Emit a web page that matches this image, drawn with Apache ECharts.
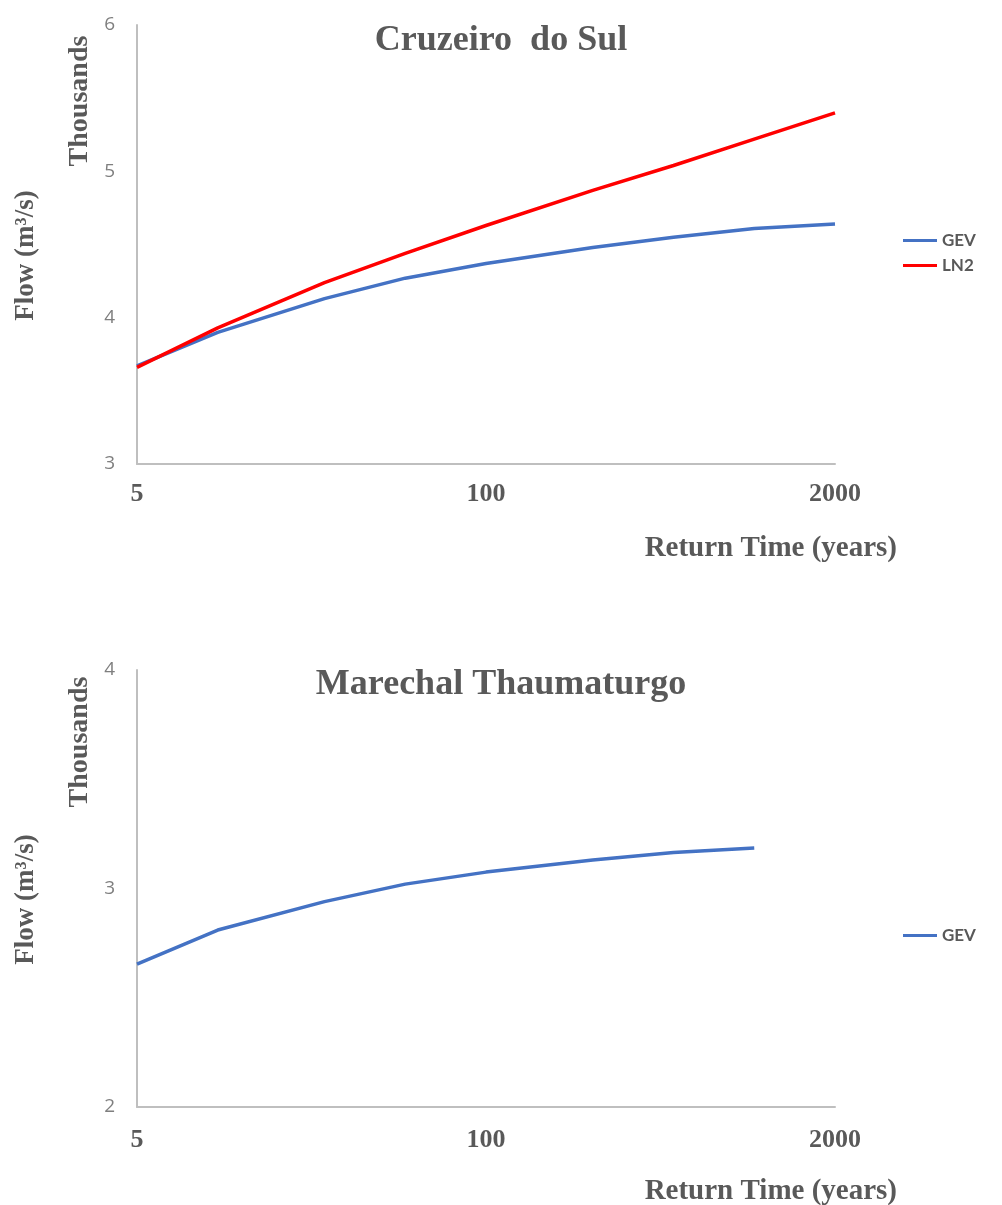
<!DOCTYPE html>
<html>
<head>
<meta charset="utf-8">
<script src="https://cdn.jsdelivr.net/npm/echarts@6/dist/echarts.min.js"></script>
<style>
  html, body { margin: 0; padding: 0; background: #fff; }
  #chart { width: 1002px; height: 1205px; }
</style>
</head>
<body>
<div id="chart"></div>
<script>
// return periods (years)
const returnTimes = [5, 10, 25, 50, 100, 250, 500, 1000, 2000];
const xTickLabels = [5, 100, 2000];

// Cruzeiro do Sul, flow in m3/s
const cruzeiroGEV = [3670, 3900, 4130, 4270, 4370, 4480, 4550, 4610, 4640];
const cruzeiroLN2 = [3660, 3930, 4240, 4440, 4630, 4870, 5040, 5220, 5400];

// Marechal Thaumaturgo, flow in m3/s (no 2000-year value)
const marechalGEV = [2654, 2810, 2940, 3020, 3075, 3130, 3165, 3185];

(function () {
  let chartDom = document.getElementById("chart");
  let myChart = echarts.init(chartDom);
  let option;

  const grey = "#595959";
  const serif = "Liberation Serif";

  function pairs(values) {
    return values.map(function (v, i) {
      return [returnTimes[i], v];
    });
  }

  function xAxisFor(gridIndex, labelMargin) {
    return {
      type: "log",
      gridIndex: gridIndex,
      min: 5,
      max: 2000,
      name: "Return Time (years)",
      nameLocation: "end",
      nameGap: 62,
      nameTextStyle: {
        align: "right",
        verticalAlign: "top",
        padding: [70, 0, 0, 0],
        fontFamily: serif,
        fontWeight: "bold",
        fontSize: 29,
        color: grey,
      },
      axisLine: { lineStyle: { color: "#bfbfbf", width: 2 } },
      axisTick: { show: false },
      minorTick: { show: false },
      splitLine: { show: false },
      axisLabel: {
        customValues: xTickLabels,
        margin: labelMargin,
        fontFamily: serif,
        fontWeight: "bold",
        fontSize: 26,
        color: grey,
        formatter: function (v) {
          return String(Math.round(v));
        },
      },
    };
  }

  function yAxisFor(gridIndex, min, max) {
    return {
      type: "value",
      gridIndex: gridIndex,
      min: min,
      max: max,
      interval: 1000,
      name: "Flow (m³/s)",
      nameLocation: "middle",
      nameGap: 97,
      nameTextStyle: {
        fontFamily: serif,
        fontWeight: "bold",
        fontSize: 27,
        color: grey,
        padding: [0, 22, 0, 0],
      },
      axisLine: { show: true, lineStyle: { color: "#bfbfbf", width: 2 } },
      axisTick: { show: false },
      splitLine: { show: false },
      axisLabel: {
        margin: 22,
        fontFamily: "Open Sans",
        fontSize: 19,
        color: "#7f7f7f",
        formatter: function (v) {
          return v / 1000;
        },
      },
    };
  }

  function thousands(y) {
    return {
      type: "text",
      x: 80,
      y: y,
      rotation: Math.PI / 2,
      style: {
        text: "Thousands",
        align: "center",
        verticalAlign: "middle",
        font: "bold 28px 'Liberation Serif'",
        fill: grey,
      },
    };
  }

  const legendText = {
    fontFamily: "Lato",
    fontWeight: "bold",
    fontSize: 17,
    color: grey,
  };

  option = {
    animation: false,
    backgroundColor: "#fff",
    title: [
      {
        text: "Cruzeiro  do Sul",
        left: "center",
        top: 18,
        textStyle: { fontFamily: serif, fontWeight: "bold", fontSize: 36, color: grey },
      },
      {
        text: "Marechal Thaumaturgo",
        left: "center",
        top: 662,
        textStyle: { fontFamily: serif, fontWeight: "bold", fontSize: 36, color: grey },
      },
    ],
    legend: [
      {
        data: ["GEV", "LN2"],
        orient: "vertical",
        left: 903,
        top: 232,
        padding: 0,
        icon: "rect",
        itemWidth: 34,
        itemHeight: 3,
        itemGap: 8,
        textStyle: legendText,
      },
      {
        data: ["GEV"],
        orient: "vertical",
        left: 903,
        top: 927,
        padding: 0,
        icon: "rect",
        itemWidth: 34,
        itemHeight: 3,
        textStyle: legendText,
      },
    ],
    grid: [
      { left: 137, width: 698, top: 25, height: 439, outerBoundsMode: "none" },
      { left: 137, width: 698, top: 670, height: 437, outerBoundsMode: "none" },
    ],
    xAxis: [xAxisFor(0, 17), xAxisFor(1, 20)],
    yAxis: [yAxisFor(0, 3000, 6000), yAxisFor(1, 2000, 4000)],
    graphic: [thousands(101), thousands(742)],
    series: [
      {
        name: "GEV",
        type: "line",
        xAxisIndex: 0,
        yAxisIndex: 0,
        symbol: "none",
        data: pairs(cruzeiroGEV),
        lineStyle: { color: "#4472c4", width: 3.5 },
        itemStyle: { color: "#4472c4" },
      },
      {
        name: "LN2",
        type: "line",
        xAxisIndex: 0,
        yAxisIndex: 0,
        symbol: "none",
        data: pairs(cruzeiroLN2),
        lineStyle: { color: "#ff0000", width: 3.5 },
        itemStyle: { color: "#ff0000" },
      },
      {
        name: "GEV",
        type: "line",
        xAxisIndex: 1,
        yAxisIndex: 1,
        symbol: "none",
        data: pairs(marechalGEV),
        lineStyle: { color: "#4472c4", width: 3.5 },
        itemStyle: { color: "#4472c4" },
      },
    ],
  };
  option && myChart.setOption(option);
})();
</script>
</body>
</html>
